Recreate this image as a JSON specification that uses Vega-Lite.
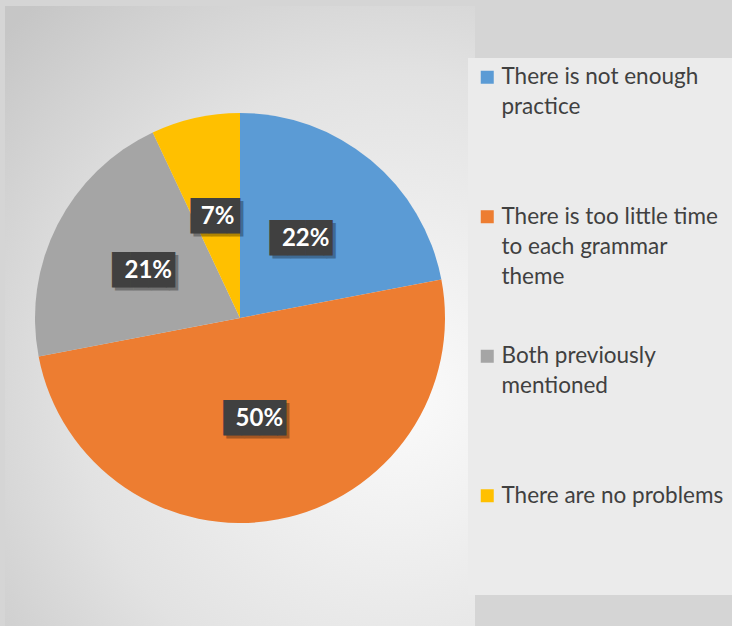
{
  "$schema": "https://vega.github.io/schema/vega-lite/v6.json",
  "width": 470,
  "height": 624,
  "padding": {"left": 5, "top": 6, "right": 0, "bottom": 0},
  "background": "#d5d5d5",
  "view": {
    "stroke": null,
    "fill": {
      "gradient": "radial",
      "x1": 0.75, "y1": 0.62, "r1": 0,
      "x2": 0.75, "y2": 0.62, "r2": 0.85,
      "stops": [
        {"offset": 0, "color": "#fbfbfb"},
        {"offset": 0.6, "color": "#e2e2e2"},
        {"offset": 1, "color": "#c6c6c6"}
      ]
    }
  },
  "data": {
    "values": [
      {"cat": "There is not enough practice", "share": 0.22, "ord": 1},
      {"cat": "There is too little time to each grammar theme", "share": 0.50, "ord": 2},
      {"cat": "Both previously mentioned", "share": 0.21, "ord": 3},
      {"cat": "There are no problems", "share": 0.07, "ord": 4}
    ]
  },
  "encoding": {
    "theta": {"field": "share", "type": "quantitative", "stack": true},
    "order": {"field": "ord", "type": "quantitative"}
  },
  "layer": [
    {
      "mark": {"type": "arc", "outerRadius": 205},
      "encoding": {
        "color": {
          "field": "cat",
          "type": "nominal",
          "sort": ["There is not enough practice", "There is too little time to each grammar theme", "Both previously mentioned", "There are no problems"],
          "scale": {
            "domain": ["There is not enough practice", "There is too little time to each grammar theme", "Both previously mentioned", "There are no problems"],
            "range": ["#5b9bd5", "#ed7d31", "#a5a5a5", "#ffc000"]
          },
          "legend": {
            "orient": "none",
            "legendX": 463,
            "legendY": 52,
            "title": " ",
            "titleOrient": "bottom",
            "titleFontSize": 81,
            "titlePadding": 0,
            "columns": 1,
            "gridAlign": "all",
            "rowPadding": 56.5,
            "padding": 8,
            "fillColor": "#ebebeb",
            "strokeColor": null,
            "symbolType": "square",
            "symbolSize": 169,
            "symbolStrokeWidth": 0,
            "labelOffset": 3,
            "labelFont": "Lato",
            "labelFontSize": 22.5,
            "labelColor": "#404040",
            "labelLimit": 400,
            "labelExpr": "datum.label == 'There is not enough practice' ? ['There is not enough', 'practice'] : datum.label == 'There is too little time to each grammar theme' ? ['There is too little time', 'to each grammar', 'theme'] : datum.label == 'Both previously mentioned' ? ['Both previously', 'mentioned'] : datum.label",
            "encode": {
              "labels": {"update": {"lineHeight": {"value": 30}}}
            }
          }
        }
      }
    },
    {
      "mark": {"type": "text", "radius": 103, "font": "DejaVu Sans Mono", "fontSize": 30, "align": "center", "baseline": "middle", "dx": 3, "dy": 3, "fill": "#000000", "opacity": 0.3},
      "encoding": {
        "text": {"condition": {"test": "datum.share < 0.1", "value": "██▊"}, "value": "███▌"}
      }
    },
    {
      "mark": {"type": "text", "radius": 103, "font": "DejaVu Sans Mono", "fontSize": 30, "align": "center", "baseline": "middle", "fill": "#404040"},
      "encoding": {
        "text": {"condition": {"test": "datum.share < 0.1", "value": "██▊"}, "value": "███▌"}
      }
    },
    {
      "mark": {"type": "text", "radius": 103, "font": "Lato", "fontWeight": "bold", "fontSize": 24, "align": "center", "baseline": "middle", "fill": "#ffffff"},
      "encoding": {
        "text": {"field": "share", "type": "quantitative", "format": ".0%"}
      }
    }
  ]
}
